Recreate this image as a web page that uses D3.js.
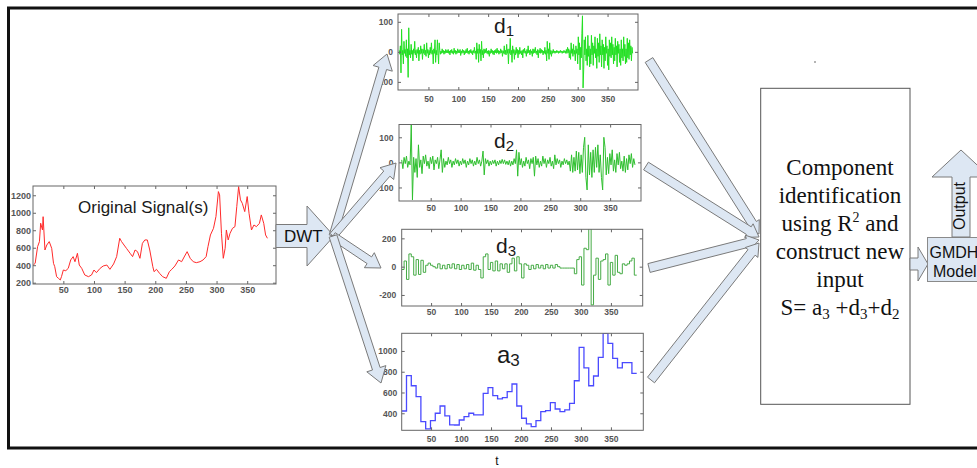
<!DOCTYPE html>
<html><head><meta charset="utf-8">
<script src="https://cdn.jsdelivr.net/npm/d3@7"></script>
<style>body{margin:0;background:#fff}svg{display:block}</style>
</head><body>
<script>
// ---------- DATA ----------
const xTicks = [50,100,150,200,250,300,350];
const origYTicks = [200,400,600,800,1000,1200];
const d1YTicks = [-100,0,100];
const d2YTicks = [-100,0,100];
const d3YTicks = [-200,0,200];
const a3YTicks = [400,600,800,1000];

const origT = [1,4,8,11,13,16,17,20,23,27,31,34,36,39,42,45,47,50,54,58,62,66,69,73,76,80,85,91,96,100,104,110,115,121,126,132,137,142,145,149,153,159,163,167,171,175,179,183,187,191,196,198,202,207,212,218,223,227,232,238,243,248,252,257,262,267,273,278,283,286,290,295,299,303,305,308,311,314,316,319,322,326,330,333,336,339,342,346,350,353,357,361,365,370,373,377,380,383];
const origV = [402,421,612,670,880,803,955,574,631,670,593,421,383,269,250,231,269,345,337,364,460,498,440,536,402,364,288,269,288,345,315,364,391,402,353,414,498,708,670,631,593,536,498,574,555,479,650,689,689,574,383,326,353,307,269,250,326,353,391,460,440,505,555,479,440,429,440,460,498,612,746,822,956,1242,1204,765,479,593,803,689,765,822,841,1070,1299,1147,1108,1013,1185,994,803,860,841,879,975,879,746,708];

// d1: one value per sample (t = 1..392)
const d1Vals = [
5,-8,20,-70,75,-10,5,-40,35,-5,8,-15,40,-20,10,-85,80,-10,5,-20,
25,-8,5,-30,10,-5,35,-10,5,-20,8,-5,15,-30,5,-8,20,-5,10,-25,
8,-5,25,-10,5,-15,30,-5,8,-20,5,-10,15,-5,30,-8,5,-40,10,-5,
40,-35,5,-10,40,-5,-40,30,5,-8,3,-5,10,-3,5,-8,3,-5,8,-3,
5,-3,8,-5,3,-10,5,-3,8,-5,3,-8,12,-3,5,-8,3,-5,10,-3,
5,-3,8,-12,3,-5,8,-3,5,-10,3,-5,8,-3,12,-5,3,-8,5,-3,
8,-5,3,-10,5,-3,15,-5,3,-25,30,-5,10,-35,25,-5,8,-30,35,-10,
5,-20,10,-5,8,-3,12,-5,3,-8,5,-15,3,-5,10,-3,5,-8,3,-10,
5,-3,8,-5,12,-3,5,-8,3,-5,10,-3,5,-15,3,-5,20,-8,5,-10,
25,-5,8,-40,10,-5,45,-10,5,-35,20,-5,8,-25,5,-10,15,-5,8,-20,
5,-8,15,-5,3,-10,5,-20,8,-3,12,-5,3,-15,8,-5,20,-3,5,-10,
8,-5,3,-15,10,-5,8,-3,15,-5,3,-10,8,-20,5,-3,12,-5,8,-3,
5,-10,3,-5,15,-8,5,-30,35,-5,10,-25,30,-8,5,-15,3,-5,8,-3,
3,-5,2,-3,5,-2,3,-5,2,-3,5,-2,3,-5,2,-3,5,-2,3,-5,
8,-5,15,-3,10,-20,5,-25,30,-5,10,-15,25,-8,5,-30,20,-5,10,-40,
50,-10,30,-60,15,-20,60,120,-120,-60,40,-10,50,-30,10,-45,55,-15,20,-50,
10,-40,55,-10,30,-45,20,-5,50,-20,10,-55,45,-15,30,-35,60,-10,20,-50,
40,-10,25,-55,15,-30,50,-5,20,-45,10,-60,40,-15,30,-20,50,-10,25,-40,
15,-30,45,-10,20,-50,35,-5,25,-35,10,-45,40,-20,10,-30,50,-15,25,-40,
10,-35,45,-20,30,-25,40,-10,20,-30,15,-5];

// d2: one value per 2-sample segment
const d2Vals = [
10,-25,20,-5,25,-20,5,-10,150,-150,
20,-40,15,-60,70,-20,10,-45,25,-5,
30,-15,5,-25,20,-5,25,-30,10,-5,
20,-25,10,50,-40,15,-20,5,-10,20,
-5,10,-20,5,-10,15,-5,10,-15,5,
-10,15,-5,10,-20,5,-10,15,-5,10,
-15,5,-10,20,-5,10,-15,5,45,-50,
15,-5,10,-15,5,-10,8,-5,10,-15,
5,-10,8,-5,12,-5,10,-8,5,-10,
8,-15,5,-10,15,-5,50,-55,40,-10,
15,-20,5,-15,20,-5,10,-25,15,-5,
20,-55,25,-10,15,-20,5,-15,25,-5,
15,-20,10,-5,20,-15,5,-25,30,-10,
15,-5,10,-20,5,-10,15,-5,10,-10,
5,-35,30,-40,20,-35,45,-30,40,-45,
30,-40,60,100,-60,-110,70,-50,40,-60,
50,-40,60,-20,70,-40,30,-60,-110,100,
60,-50,20,-45,35,-10,50,-35,10,-40,
35,-10,40,-25,5,-35,25,-40,15,-30,
30,-5,35,-20,15,-10];

// d3: one value per 4-sample segment
const d3Vals = [
-20,40,-90,90,70,-60,50,-55,45,-40,10,
25,10,0,-10,
20,-15,10,-15,15,-10,
20,-15,15,-20,10,-15,15,-20,25,-25,
10,-20,
-80,70,90,-20,30,-30,40,-30,20,-15,20,-40,20,60,-30,70,20,-80,20,10,-20,
10,-15,15,-10,10,-15,15,-10,10,-10,15,
0,-10,-10,-10,-10,-10,-10,
-50,50,70,-130,130,120,270,-270,-60,60,-90,40,50,90,-130,30,-60,80,-40,-50,20,10,20,40,60,-60];

// a3: one value per 8-sample segment
const a3Vals = [422,762,665,560,320,250,330,400,470,375,288,287,335,368,400,384,384,592,646,570,538,550,608,682,470,352,297,271,330,416,425,502,441,416,432,496,713,1035,838,665,759,938,1170,1073,929,838,887,887,785];

// ---------- DRAW ----------
const W = 977, H = 468;
const svg = d3.select("body").append("svg").attr("width", W).attr("height", H);
svg.append("rect").attr("width", W).attr("height", H).attr("fill", "#fff");

const SANS = "'Liberation Sans', Arial, sans-serif";
const SERIF = "'Liberation Serif', 'Times New Roman', serif";

function stepData(vals, width) {
  const pts = vals.map((v, i) => [1 + i * width, v]);
  pts.push([1 + vals.length * width, vals[vals.length - 1]]);
  return pts;
}

let clipN = 0;
function panel(o) {
  const x = d3.scaleLinear().domain(o.xd).range([o.l, o.r]);
  const y = d3.scaleLinear().domain(o.yd).range([o.b, o.t]);
  const g = svg.append("g");
  const id = "clip" + (clipN++);
  svg.append("clipPath").attr("id", id).append("rect")
    .attr("x", o.l).attr("y", o.t).attr("width", o.r - o.l).attr("height", o.b - o.t);
  g.append("rect").attr("x", o.l).attr("y", o.t).attr("width", o.r - o.l).attr("height", o.b - o.t)
    .attr("fill", "#fff");
  g.append("path").datum(o.data).attr("clip-path", `url(#${id})`)
    .attr("fill", "none").attr("stroke", o.color).attr("stroke-width", o.sw || 1)
    .attr("stroke-linejoin", "miter")
    .attr("d", d3.line().x(d => x(d[0])).y(d => y(d[1])).curve(o.curve || d3.curveLinear));
  const ax = (gen, tr, ticks, show, pad) => {
    const a = g.append("g").attr("transform", tr)
      .call(gen.tickValues(ticks).tickSizeInner(-3).tickSizeOuter(0).tickPadding(pad)
        .tickFormat(show ? (d => String(d)) : (() => "")));
    a.select(".domain").remove();
    a.selectAll("line").attr("stroke", "#666");
    a.selectAll("text").attr("fill", "#555")
      .style("font-family", SANS).style("font-size", (o.fs || 8.5) + "px").style("font-weight", "bold");
  };
  ax(d3.axisBottom(x), `translate(0,${o.b})`, xTicks, true, o.xPad);
  ax(d3.axisTop(x), `translate(0,${o.t})`, xTicks, false, 0);
  ax(d3.axisLeft(y), `translate(${o.l},0)`, o.yTicks, true, o.yPad);
  ax(d3.axisRight(y), `translate(${o.r},0)`, o.yTicks, false, 0);
  g.append("rect").attr("x", o.l).attr("y", o.t).attr("width", o.r - o.l).attr("height", o.b - o.t)
    .attr("fill", "none").attr("stroke", "#666").attr("stroke-width", 1);
  const t = g.append("text").attr("x", o.tx).attr("y", o.ty).attr("fill", "#1a1a1a")
    .style("font-family", SANS).style("font-size", o.tfs + "px");
  t.append("tspan").text(o.title);
  if (o.sub) t.append("tspan").attr("dy", o.subDy).style("font-size", o.sfs + "px").text(o.sub);
}

// Block arrow helper (layout shapes)
function blockArrow(x1, y1, x2, y2, sw, hw, hl) {
  const dx = x2 - x1, dy = y2 - y1, len = Math.hypot(dx, dy);
  const ux = dx / len, uy = dy / len, px = -uy, py = ux;
  const bx = x2 - ux * hl, by = y2 - uy * hl;
  const pts = [[x1 + px * sw, y1 + py * sw], [bx + px * sw, by + py * sw], [bx + px * hw, by + py * hw],
    [x2, y2], [bx - px * hw, by - py * hw], [bx - px * sw, by - py * sw], [x1 - px * sw, y1 - py * sw]];
  return "M" + pts.map(p => p[0].toFixed(1) + "," + p[1].toFixed(1)).join("L") + "Z";
}
const AFILL = "#dde7f3", ASTROKE = "#7a7a7a";
function arrow(x1, y1, x2, y2, sw, hw, hl) {
  svg.append("path").attr("d", blockArrow(x1, y1, x2, y2, sw, hw, hl))
    .attr("fill", AFILL).attr("stroke", ASTROKE).attr("stroke-width", 1).attr("stroke-linejoin", "miter");
}

// Outer frame
svg.append("path").attr("d", "M977,8 H8.5 V448 H977").attr("fill", "none")
  .attr("stroke", "#111").attr("stroke-width", 3);

// Panels
panel({ l: 33, r: 276, t: 186, b: 284, xd: [0.5, 397], yd: [185, 1306], yTicks: origYTicks,
  data: origT.map((t, i) => [t, origV[i]]), color: "#ff2a2a", xPad: 3, yPad: 2, fs: 9,
  title: "Original Signal(s)", tx: 78, ty: 213, tfs: 17 });
panel({ l: 398, r: 638, t: 14, b: 90, xd: [-1, 401], yd: [-127, 126], yTicks: d1YTicks,
  data: d1Vals.map((v, i) => [i + 1, v]), color: "#22e022", xPad: 6, yPad: 5,
  title: "d", sub: "1", tx: 494, ty: 33, tfs: 21, sfs: 15, subDy: 3 });
panel({ l: 399, r: 641, t: 124.5, b: 201, xd: [-3, 401.6], yd: [-154, 151], yTicks: d2YTicks,
  data: d2Vals.map((v, i) => [2 * i + 1.5, v]), color: "#2fbf2f", xPad: 3.5, yPad: 5.5,
  title: "d", sub: "2", tx: 494, ty: 148, tfs: 21, sfs: 15, subDy: 3 });
panel({ l: 401.7, r: 642.7, t: 229.3, b: 306, xd: [1, 403], yd: [-278, 264], yTicks: d3YTicks,
  data: stepData(d3Vals, 4), curve: d3.curveStepAfter, color: "#46ab46", xPad: 3, yPad: 5.5,
  title: "d", sub: "3", tx: 496, ty: 253, tfs: 21, sfs: 15, subDy: 3 });
panel({ l: 401.7, r: 643.3, t: 333.3, b: 430.3, xd: [1, 404], yd: [236, 1170], yTicks: a3YTicks,
  data: stepData(a3Vals, 8), curve: d3.curveStepAfter, color: "#4a4aff", sw: 1.3, xPad: 6, yPad: 4.5,
  title: "a", sub: "3", tx: 497, ty: 363, tfs: 24, sfs: 17, subDy: 3 });

// DWT arrow and branches
arrow(276, 236, 334, 236, 11.5, 30, 27);
svg.append("text").attr("x", 284).attr("y", 242).attr("fill", "#111")
  .style("font-family", SANS).style("font-size", "17px").text("DWT");
arrow(333, 236, 387, 54, 4, 10, 15);
arrow(333, 236, 396, 163, 4, 9, 14);
arrow(333, 236, 381, 268, 4, 9, 14);
arrow(333, 236, 381, 383, 4, 10, 15);

// Converging arrows
arrow(649, 60, 759, 234, 4.5, 8, 12);
arrow(646, 166, 759, 237, 4.5, 8, 12);
arrow(649, 268, 759, 240, 4.5, 8, 12);
arrow(651, 380, 759, 243, 4.5, 8, 12);

// Central box
svg.append("rect").attr("x", 760.7).attr("y", 88.3).attr("width", 149.3).attr("height", 316)
  .attr("fill", "#fff").attr("stroke", "#555").attr("stroke-width", 1);
const cx = 840;
const lines = [["Component", 175], ["identification", 202.7], ["input", 286.7]];
lines.forEach(([s, yy]) => svg.append("text").attr("x", cx).attr("y", yy).attr("text-anchor", "middle")
  .attr("fill", "#111").style("font-family", SERIF).style("font-size", "23px").text(s));
const l3 = svg.append("text").attr("x", cx).attr("y", 230.7).attr("text-anchor", "middle").attr("fill", "#111")
  .style("font-family", SERIF).style("font-size", "23px");
l3.append("tspan").text("using R");
l3.append("tspan").attr("dy", -9).style("font-size", "14px").text("2");
l3.append("tspan").attr("dy", 9).text(" and");
svg.append("text").attr("x", cx).attr("y", 259).attr("text-anchor", "middle").attr("fill", "#111")
  .style("font-family", SERIF).style("font-size", "23px").text("construct new");
const l6 = svg.append("text").attr("x", cx).attr("y", 315).attr("text-anchor", "middle").attr("fill", "#111")
  .style("font-family", SERIF).style("font-size", "23px");
l6.append("tspan").text("S= a");
l6.append("tspan").attr("dy", 4).style("font-size", "15px").text("3");
l6.append("tspan").attr("dy", -4).text(" +d");
l6.append("tspan").attr("dy", 4).style("font-size", "15px").text("3");
l6.append("tspan").attr("dy", -4).text("+d");
l6.append("tspan").attr("dy", 4).style("font-size", "15px").text("2");

// Arrow to GMDH, GMDH box, output arrow
arrow(910, 264, 928, 264, 6, 17, 10);
svg.append("rect").attr("x", 927.5).attr("y", 237.5).attr("width", 70).attr("height", 44)
  .attr("fill", AFILL).attr("stroke", "#8a8a8a").attr("stroke-width", 1);
svg.append("text").attr("x", 929.5).attr("y", 258).attr("fill", "#111")
  .style("font-family", SANS).style("font-size", "16px").text("GMDH");
svg.append("text").attr("x", 933).attr("y", 277).attr("fill", "#111")
  .style("font-family", SANS).style("font-size", "16px").text("Model");
arrow(961, 237, 961, 150, 9, 29, 27);
svg.append("text").attr("transform", "translate(965,206) rotate(-90)").attr("text-anchor", "middle")
  .attr("fill", "#111").style("font-family", SANS).style("font-size", "16px").text("Output");

// small marks
svg.append("text").attr("x", 497).attr("y", 465).attr("text-anchor", "middle").attr("fill", "#111")
  .style("font-family", SANS).style("font-size", "12px").text("t");
svg.append("circle").attr("cx", 815).attr("cy", 62).attr("r", 0.8).attr("fill", "#555");
</script>
</body></html>
